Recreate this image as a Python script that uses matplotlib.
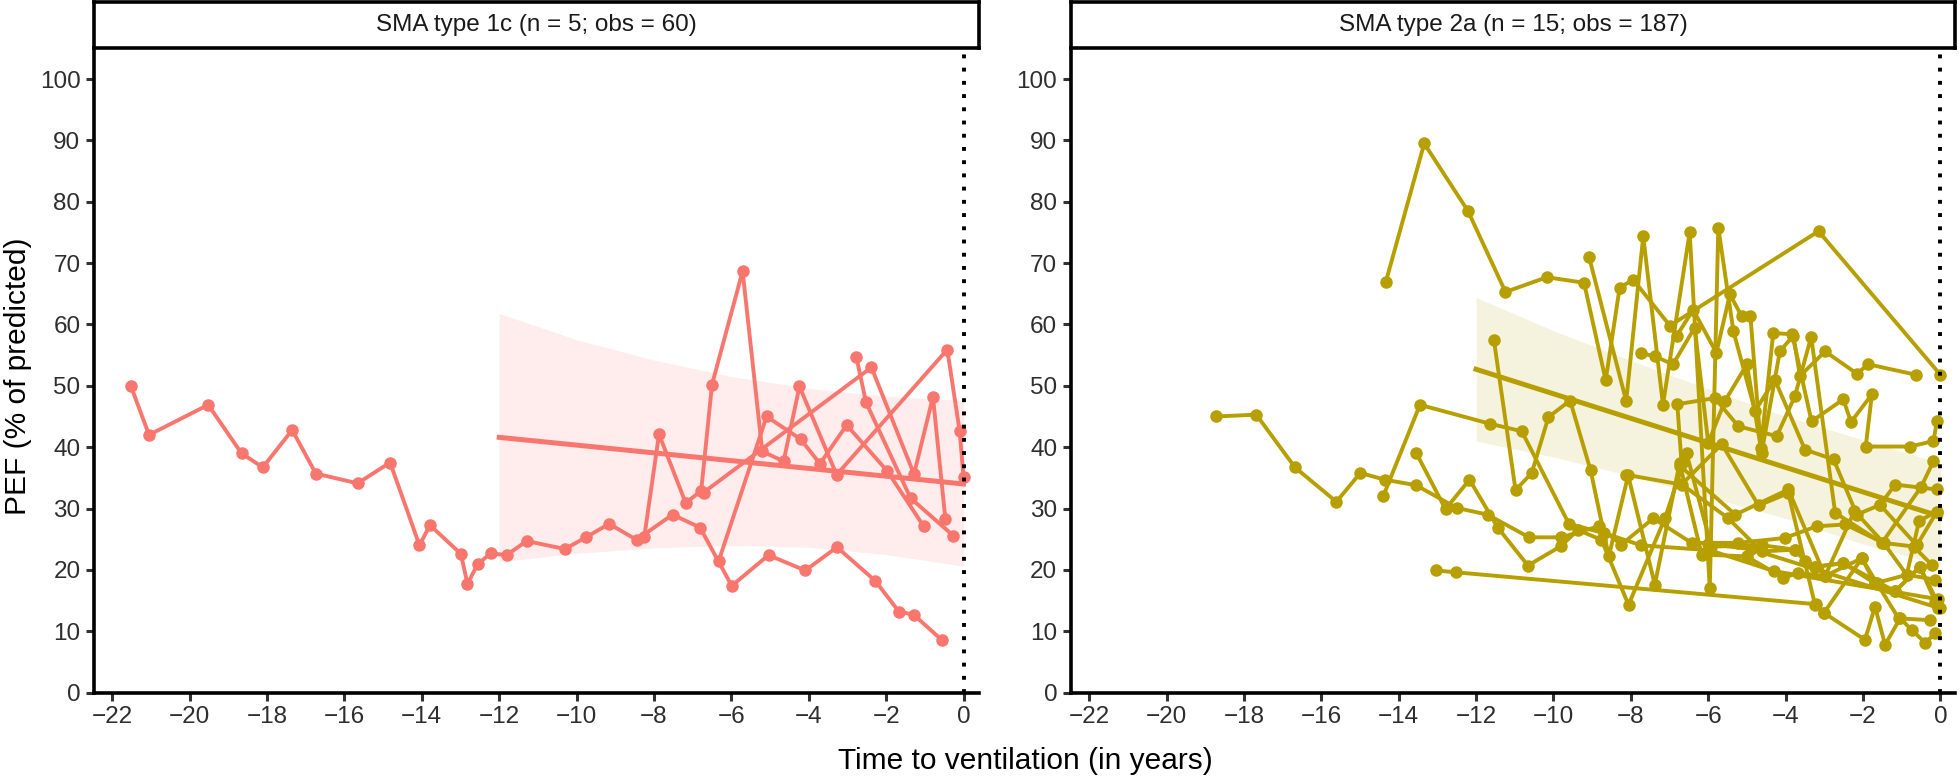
import matplotlib
matplotlib.use('Agg')
import matplotlib.pyplot as plt

plt.rcParams['font.family'] = ['Liberation Sans', 'DejaVu Sans']

# ---- SMA type 1c: one list of (years to ventilation, PEF %) per patient
t1c_p1 = [(-21.52, 50.0), (-21.05, 42.0), (-19.52, 46.9), (-18.66, 39.0), (-18.11, 36.7),
          (-17.35, 42.8), (-16.74, 35.7), (-15.66, 34.1), (-14.82, 37.5), (-14.06, 24.0),
          (-13.79, 27.3), (-12.99, 22.6), (-12.82, 17.7), (-12.56, 20.9), (-12.22, 22.7),
          (-11.81, 22.4), (-11.29, 24.7), (-10.30, 23.4), (-9.76, 25.3), (-9.16, 27.5),
          (-8.45, 24.9), (-7.52, 29.0), (-6.81, 26.9), (-5.99, 17.4), (-5.04, 22.4),
          (-4.09, 19.9), (-3.27, 23.7), (-2.28, 18.2), (-1.67, 13.2), (-1.29, 12.7),
          (-0.55, 8.5)]
t1c_p2 = [(-8.25, 25.4), (-7.87, 42.1), (-7.18, 30.9), (-6.78, 32.9), (-6.50, 50.2),
          (-5.71, 68.7), (-5.20, 39.3), (-4.65, 37.7), (-4.24, 49.9), (-3.28, 35.5),
          (-0.42, 55.9), (-0.10, 42.6), (0.0, 35.1)]
t1c_p3 = [(-6.33, 21.4), (-5.09, 45.0), (-4.21, 41.3), (-3.71, 37.3), (-3.02, 43.6),
          (-1.97, 36.1), (-1.03, 27.1)]
t1c_p4 = [(-6.72, 32.6), (-2.38, 53.0), (-1.28, 35.6), (-0.79, 48.2), (-0.47, 28.3)]
t1c_p5 = [(-2.77, 54.7), (-2.52, 47.3), (-1.37, 31.7), (-0.27, 25.6)]

# trend line and band, SMA type 1c
t1c_fit_t = [-12, 0]
t1c_fit_y = [41.6, 34.0]
band_t = [-12, -10, -8, -6, -4, -2, 0]
t1c_band_lo = [21.3, 22.7, 23.6, 24.0, 23.7, 22.5, 20.6]
t1c_band_hi = [61.8, 57.5, 54.2, 51.5, 49.6, 48.3, 47.6]

# ---- SMA type 2a
t2a_p1 = [(-14.33, 67.0), (-13.34, 89.5), (-12.21, 78.5), (-11.24, 65.3), (-10.17, 67.7),
          (-9.21, 66.8), (-8.65, 50.9), (-8.29, 66.0), (-7.94, 67.3), (-6.99, 59.8),
          (-3.15, 75.2), (0.0, 51.8)]
t2a_p2 = [(-18.73, 45.0), (-17.68, 45.3), (-16.68, 36.7), (-15.61, 31.1), (-14.99, 35.8),
          (-14.36, 34.7), (-13.55, 33.8), (-12.50, 30.1), (-11.70, 29.0), (-10.63, 25.3),
          (-9.80, 25.3), (-8.83, 27.1), (-8.25, 24.1), (-7.42, 28.4), (-6.43, 24.4),
          (-5.22, 24.4), (-4.02, 25.2), (-3.20, 27.1), (-2.46, 27.4), (-1.47, 24.4),
          (-0.69, 23.8), (-0.22, 20.8)]
t2a_p3 = [(-14.40, 32.0), (-13.45, 46.9), (-11.63, 43.8), (-10.82, 42.6), (-9.60, 27.5),
          (-8.70, 26.0), (-7.73, 24.0), (-5.96, 23.2), (-4.30, 19.8), (-0.05, 15.2)]
t2a_p4 = [(-6.00, 24.2), (-4.90, 23.4), (-0.05, 13.8)]
t2a_p5 = [(-9.08, 71.0), (-8.12, 47.5), (-7.68, 74.4), (-7.17, 46.9), (-6.48, 75.0),
          (-5.96, 17.0), (-5.74, 75.8), (-5.35, 58.9), (-4.79, 45.9), (-4.28, 51.0),
          (-3.50, 39.6), (-2.76, 38.0), (-2.16, 29.0), (-1.56, 30.6), (-1.17, 33.9),
          (-0.09, 33.1)]
t2a_p6 = [(-11.54, 57.5), (-10.98, 33.0), (-10.56, 35.8), (-10.13, 44.9), (-9.57, 47.6),
          (-9.04, 36.2), (-8.57, 22.2), (-8.07, 35.4), (-7.38, 17.6), (-6.74, 37.4),
          (-6.17, 22.5), (-5.01, 22.2), (-4.06, 18.7), (-3.67, 19.5), (-2.98, 19.0),
          (-2.03, 21.9), (-1.69, 17.8), (-0.87, 19.2), (-0.13, 18.4)]
t2a_p7 = [(-13.03, 19.9), (-12.52, 19.6), (-3.21, 14.4), (-3.01, 13.0), (-1.95, 8.6),
          (-1.69, 14.0), (-1.43, 7.8), (-1.04, 12.1), (-0.74, 10.2), (-0.39, 8.1),
          (-0.13, 9.7)]
t2a_p8 = [(-13.55, 39.1), (-12.79, 29.9), (-12.17, 34.7), (-11.44, 26.9), (-10.66, 20.7),
          (-9.80, 23.9), (-9.37, 26.5), (-8.76, 24.9), (-8.06, 14.3), (-7.12, 28.4),
          (-6.56, 39.0), (-5.92, 23.8), (-4.60, 24.0), (-3.76, 23.3), (-3.24, 20.5),
          (-2.51, 21.1), (-1.17, 16.5), (-0.53, 20.5), (0.0, 13.8)]
t2a_p9 = [(-6.82, 58.1), (-6.39, 62.4), (-5.79, 55.4), (-5.44, 64.9), (-5.14, 61.4),
          (-4.91, 61.4), (-4.64, 39.9), (-4.32, 58.6), (-3.83, 58.4), (-3.33, 44.2),
          (-2.51, 47.8), (-2.31, 44.1), (-1.77, 48.6), (-1.93, 40.1), (-0.78, 40.1),
          (-0.18, 41.0), (-0.09, 44.2)]
t2a_p10 = [(-7.73, 55.3), (-7.38, 54.8), (-6.91, 53.5), (-6.35, 59.5), (-6.00, 40.7),
           (-5.57, 47.5), (-5.00, 53.5), (-4.62, 39.1), (-4.15, 55.6), (-3.80, 58.2),
           (-3.63, 51.6), (-2.98, 55.6), (-2.16, 52.0), (-1.86, 53.5), (-0.63, 51.8)]
t2a_p11 = [(-6.69, 37.4), (-6.80, 47.0), (-5.83, 48.0), (-5.22, 43.4), (-4.23, 41.8),
           (-3.76, 48.3), (-3.34, 58.0), (-2.72, 29.3), (-1.51, 24.4), (-0.50, 33.5),
           (-0.18, 37.7)]
t2a_p12 = [(-8.12, 35.5), (-6.69, 33.9), (-5.65, 40.5), (-4.70, 30.5), (-3.93, 32.5),
           (-3.24, 14.3), (-3.02, 12.9), (-2.03, 21.9), (-1.64, 17.8), (-1.08, 12.1),
           (-0.26, 11.8)]
t2a_p13 = [(-6.70, 34.0), (-5.50, 28.5), (-4.62, 23.0), (-3.76, 23.3), (-3.50, 21.4),
           (-3.24, 20.5), (-2.51, 21.1), (-1.69, 17.8), (-1.17, 16.5), (-0.53, 20.5),
           (-0.13, 14.8)]
t2a_p14 = [(-6.74, 37.0), (-5.30, 29.0), (-3.93, 33.1), (-2.98, 19.0), (-2.22, 29.6),
           (-1.47, 24.4), (-0.87, 19.2), (-0.55, 28.0), (-0.09, 29.5)]
t2a_p15 = [(-1.56, 30.6), (-0.61, 24.0), (-0.09, 29.5)]

t2a_fit_t = [-12, 0]
t2a_fit_y = [52.7, 28.7]
t2a_band_lo = [41.0, 38.4, 35.3, 31.9, 28.4, 24.2, 20.8]
t2a_band_hi = [64.4, 59.0, 54.1, 49.5, 45.0, 41.2, 37.4]

panels = [
    ('SMA type 1c (n = 5; obs = 60)', '#F8766D',
     [t1c_p1, t1c_p2, t1c_p3, t1c_p4, t1c_p5], t1c_fit_t, t1c_fit_y, t1c_band_lo, t1c_band_hi),
    ('SMA type 2a (n = 15; obs = 187)', '#B79F00',
     [t2a_p1, t2a_p2, t2a_p3, t2a_p4, t2a_p5, t2a_p6, t2a_p7, t2a_p8, t2a_p9, t2a_p10,
      t2a_p11, t2a_p12, t2a_p13, t2a_p14, t2a_p15], t2a_fit_t, t2a_fit_y, t2a_band_lo, t2a_band_hi),
]

fig = plt.figure(figsize=(19.6, 7.83), dpi=100)
lefts = [0.0478, 0.5462]
width = 0.4515
bottom, height = 0.1155, 0.8227

for (title, col, patients, fit_t, fit_y, lo, hi), left in zip(panels, lefts):
    ax = fig.add_axes([left, bottom, width, height])
    ax.fill_between(band_t, lo, hi, color=col, alpha=0.13, linewidth=0, zorder=1)
    for p in patients:
        ts = [a for a, b in p]
        ys = [b for a, b in p]
        ax.plot(ts, ys, color=col, linewidth=2.8, marker='o', markersize=8,
                solid_joinstyle='round', solid_capstyle='round', zorder=2)
    ax.plot(fit_t, fit_y, color=col, linewidth=3.6, zorder=3)
    ax.axvline(0, color='black', linestyle=(0, (1, 2.4)), linewidth=2.8, zorder=4)

    ax.set_xlim(-22.48, 0.39)
    ax.set_ylim(0, 105)
    ax.set_xticks(range(-22, 1, 2))
    ax.set_yticks(range(0, 101, 10))
    for s in ['top', 'right']:
        ax.spines[s].set_visible(False)
    for s in ['left', 'bottom']:
        ax.spines[s].set_linewidth(2.6)
        ax.spines[s].set_color('black')
    ax.tick_params(length=5.5, width=2.2, color='#333333', labelsize=17.5,
                   labelcolor='#2E2E2E', pad=4)

    # facet strip
    sax = fig.add_axes([left, 0.9387, width, 0.0587])
    sax.set_xticks([])
    sax.set_yticks([])
    for s in sax.spines.values():
        s.set_linewidth(2.6)
        s.set_color('black')
    sax.text(0.5, 0.5, title, ha='center', va='center', fontsize=17.5,
             color='#1A1A1A', transform=sax.transAxes)

fig.text(0.523, 0.028, 'Time to ventilation (in years)', ha='center', va='center',
         fontsize=21.5, color='black')
fig.text(0.009, 0.52, 'PEF (% of predicted)', ha='center', va='center',
         rotation=90, fontsize=21.5, color='black')

fig.savefig('out.png', dpi=100)
